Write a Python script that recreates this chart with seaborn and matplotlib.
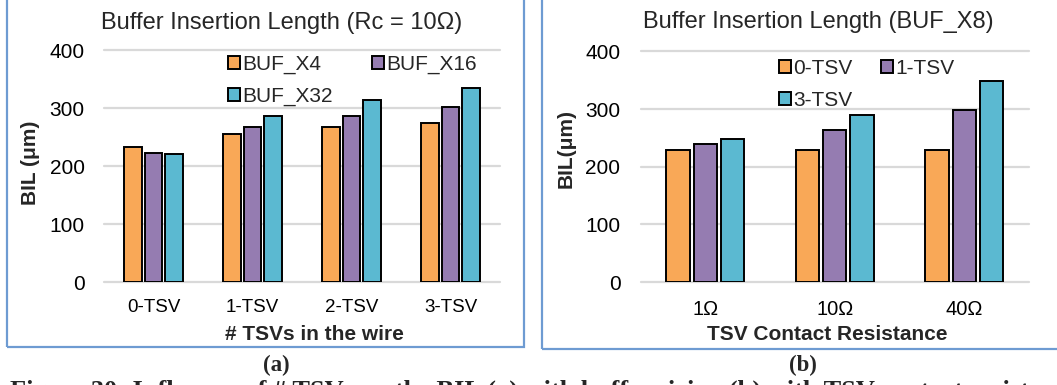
import matplotlib
matplotlib.use("Agg")
import matplotlib.pyplot as plt
from matplotlib.patches import Rectangle, Patch
import seaborn as sns
import pandas as pd

# Panel (a): buffer sizes vs. number of TSVs (Rc = 10 ohm)
tsv_counts = ["0-TSV", "1-TSV", "2-TSV", "3-TSV"]
buf_x4 = [232, 256, 267, 275]
buf_x16 = [222, 268, 287, 302]
buf_x32 = [221, 287, 314, 335]
buffers = ["BUF_X4", "BUF_X16", "BUF_X32"]

# Panel (b): TSV counts vs. contact resistance (BUF_X8)
resistances = ["1\u03a9", "10\u03a9", "40\u03a9"]
tsv0 = [229, 229, 229]
tsv1 = [240, 263, 298]
tsv3 = [248, 289, 348]
tsv_series = ["0-TSV", "1-TSV", "3-TSV"]

colors = ["#F9A857", "#957CB1", "#5BB9D1"]
border_color = "#6E9BD2"
grid_color = "#D9D9D9"

sns.set_theme(style="white")
plt.rcParams["font.family"] = ["Liberation Sans", "DejaVu Sans"]

W, H = 1057, 385
fig = plt.figure(figsize=(W / 100, H / 100), dpi=100)


def fx(px):
    return px / W


def fy(py):
    return 1 - py / H


def long_frame(cats, names, cols):
    rows = []
    for name, vals in zip(names, cols):
        for c, v in zip(cats, vals):
            rows.append({"cat": c, "series": name, "val": v})
    return pd.DataFrame(rows)


def draw_panel(rect, cats, names, cols, xtick_size, xtick_pad, ytick_pad):
    ax = fig.add_axes(rect)
    df = long_frame(cats, names, cols)
    sns.barplot(data=df, x="cat", y="val", hue="series", order=cats,
                hue_order=names, palette=colors, width=0.63, gap=0.14,
                edgecolor="black", linewidth=1.4, saturation=1,
                legend=False, ax=ax)
    ax.set_ylim(0, 400)
    ax.set_yticks([0, 100, 200, 300, 400])
    ax.set_xlabel("")
    ax.set_ylabel("")
    for s in ax.spines.values():
        s.set_visible(False)
    ax.set_axisbelow(True)
    ax.yaxis.grid(True, color=grid_color, linewidth=1.6)
    for gl in ax.get_ygridlines():
        gl.set_clip_on(False)
    ax.tick_params(axis="x", length=0, pad=xtick_pad, labelsize=xtick_size,
                   colors="black")
    ax.tick_params(axis="y", length=0, pad=ytick_pad, labelsize=15,
                   colors="black")
    ax.patch.set_alpha(0)
    return ax


def add_legend(ax, names, anchor_px, colspacing):
    handles = [Patch(facecolor=c, edgecolor="black", linewidth=1.4)
               for c in colors]
    # two columns, filled row-wise: first, second on top row, third below
    order = [0, 2, 1]
    ax.legend([handles[i] for i in order], [names[i] for i in order],
              ncol=2, loc="upper left",
              bbox_to_anchor=(fx(anchor_px[0]), fy(anchor_px[1])),
              bbox_transform=fig.transFigure, frameon=False, fontsize=15,
              handlelength=0.58, handleheight=0.58, handletextpad=0.12,
              columnspacing=colspacing, labelspacing=0.61,
              borderpad=0, borderaxespad=0)


# Panel frames
fig.add_artist(Rectangle((fx(7), fy(347)), fx(524) - fx(7), fy(-10) - fy(347),
                         transform=fig.transFigure, fill=False,
                         edgecolor=border_color, linewidth=1.6))
fig.add_artist(Rectangle((fx(542), fy(349)), fx(1070) - fx(542),
                         fy(-10) - fy(349), transform=fig.transFigure,
                         fill=False, edgecolor=border_color, linewidth=1.6))

# Panel (a)
ax1 = draw_panel([fx(104), fy(282), fx(500) - fx(104), fy(50) - fy(282)],
                 tsv_counts, buffers, [buf_x4, buf_x16, buf_x32],
                 xtick_size=13.5, xtick_pad=12.6, ytick_pad=14)
add_legend(ax1, buffers, (228, 55), 1.86)
fig.text(fx(282), fy(23), "Buffer Insertion Length (Rc = 10\u03a9)",
         ha="center", va="center", fontsize=17)
fig.text(fx(30), fy(163), "BIL (\u03bcm)", rotation=90, ha="center",
         va="center", fontsize=15, fontweight="bold")
fig.text(fx(314), fy(334), "# TSVs in the wire", ha="center", va="center",
         fontsize=15, fontweight="bold")

# Panel (b)
ax2 = draw_panel([fx(640.5), fy(282), fx(1029) - fx(640.5), fy(51.5) - fy(282)],
                 resistances, tsv_series, [tsv0, tsv1, tsv3],
                 xtick_size=14.5, xtick_pad=13, ytick_pad=14.4)
add_legend(ax2, tsv_series, (779, 59), 1.36)
fig.text(fx(818), fy(22), "Buffer Insertion Length (BUF_X8)",
         ha="center", va="center", fontsize=17)
fig.text(fx(566.5), fy(149), "BIL(\u03bcm)", rotation=90, ha="center",
         va="center", fontsize=15, fontweight="bold")
fig.text(fx(827.5), fy(334), "TSV Contact Resistance", ha="center",
         va="center", fontsize=15, fontweight="bold")

# Sub-figure captions and figure caption
serif = ["Liberation Serif", "DejaVu Serif"]
fig.text(fx(276.5), fy(365), "(a)", ha="center", va="center", fontsize=16.5,
         fontweight="bold", family=serif)
fig.text(fx(803), fy(365), "(b)", ha="center", va="center", fontsize=16.5,
         fontweight="bold", family=serif)
fig.text(fx(10), fy(398), "Figure 30: Influence of # TSVs on the BIL (a) with "
         "buffer sizing (b) with TSV contact resistance", ha="left",
         va="baseline", fontsize=19, fontweight="bold", family=serif)

fig.savefig("out.png", dpi=100)
